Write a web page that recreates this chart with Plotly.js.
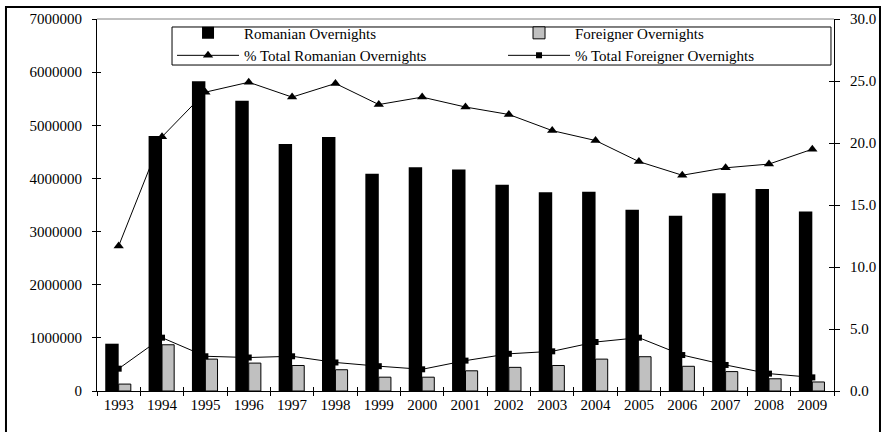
<!DOCTYPE html>
<html>
<head>
<meta charset="utf-8">
<script src="https://cdn.plot.ly/plotly-3.0.1.min.js"></script>
<style>html,body{margin:0;padding:0;background:#fff;}#chart{width:882px;height:432px;}</style>
</head>
<body>
<div id="chart"></div>
<script>
const years = ['1993','1994','1995','1996','1997','1998','1999','2000','2001','2002','2003','2004','2005','2006','2007','2008','2009'];
const romanianOvernights = [890000,4800000,5830000,5460000,4650000,4780000,4090000,4210000,4170000,3880000,3740000,3750000,3410000,3300000,3720000,3800000,3380000];
const foreignerOvernights = [130000,870000,600000,525000,480000,400000,260000,260000,380000,445000,480000,600000,645000,465000,365000,230000,170000];
const pctRomanian = [11.7,20.5,24.1,24.9,23.7,24.8,23.1,23.7,22.9,22.3,21.0,20.2,18.5,17.4,18.0,18.3,19.5];
const pctForeigner = [1.8,4.3,2.8,2.7,2.8,2.3,2.0,1.75,2.45,3.0,3.2,3.95,4.3,2.9,2.1,1.4,1.1];

const serif = 'Liberation Serif';

const traces = [
  {type:'bar', name:'Romanian Overnights', x:years, y:romanianOvernights,
   marker:{color:'#000000', line:{width:0}}, offset:-0.31, width:0.31, xaxis:'x', yaxis:'y'},
  {type:'bar', name:'Foreigner Overnights', x:years, y:foreignerOvernights,
   marker:{color:'#c0c0c0', line:{color:'#000000', width:1}}, offset:0.0, width:0.28, xaxis:'x', yaxis:'y'},
  {type:'scatter', mode:'lines+markers', name:'% Total Romanian Overnights', x:years, y:pctRomanian,
   line:{color:'#000000', width:1}, marker:{symbol:'triangle-up', size:9, color:'#000000'}, xaxis:'x', yaxis:'y2'},
  {type:'scatter', mode:'lines+markers', name:'% Total Foreigner Overnights', x:years, y:pctForeigner,
   line:{color:'#000000', width:1}, marker:{symbol:'square', size:6, color:'#000000'}, xaxis:'x', yaxis:'y2'}
];

const layout = {
  width:882, height:432,
  margin:{l:97, r:48, t:19, b:41},
  paper_bgcolor:'#ffffff', plot_bgcolor:'#ffffff',
  font:{family:serif, size:15, color:'#000000'},
  barmode:'overlay',
  showlegend:true,
  legend:{orientation:'h', x:0.1018, y:1.0065, xanchor:'left', yanchor:'top',
          bgcolor:'rgba(0,0,0,0)', borderwidth:0,
          font:{family:serif, size:15, color:'#000000'},
          entrywidth:254, entrywidthmode:'pixels', itemwidth:62, tracegroupgap:0},
  xaxis:{type:'category', range:[-0.5,16.5], showline:true, linecolor:'#000000', linewidth:1,
         ticks:'outside', ticklen:4, tickcolor:'#000000', tickson:'boundaries',
         showgrid:false, zeroline:false, tickfont:{family:serif, size:15}, fixedrange:true},
  xaxis2:{type:'category', overlaying:'x', matches:'x', range:[-0.5,16.5], anchor:'y', side:'bottom',
          showline:false, ticks:'inside', ticklen:4, tickcolor:'#000000', tickson:'boundaries',
          showticklabels:false, showgrid:false, zeroline:false, tickvals:years, ticktext:years},
  yaxis:{range:[0,7000000], dtick:1000000, tickformat:'d', showline:true, linecolor:'#000000', linewidth:1,
         ticks:'outside', ticklen:4, tickcolor:'#000000', showgrid:false, zeroline:false,
         tickfont:{family:serif, size:15}, ticklabelstandoff:7},
  yaxis2:{range:[0,30], dtick:5, tickformat:'.1f', overlaying:'y', side:'right', anchor:'x',
          showline:true, linecolor:'#000000', linewidth:1, ticks:'outside', ticklen:5, tickcolor:'#000000',
          showgrid:false, zeroline:false, tickfont:{family:serif, size:15}, ticklabelstandoff:7},
  yaxis3:{range:[0,7000000], dtick:1000000, overlaying:'y', side:'left', anchor:'x',
          showline:false, ticks:'inside', ticklen:4, tickcolor:'#000000', showticklabels:false,
          showgrid:false, zeroline:false},
  yaxis4:{range:[0,30], dtick:5, overlaying:'y', side:'right', anchor:'x',
          showline:false, ticks:'inside', ticklen:5, tickcolor:'#000000', showticklabels:false,
          showgrid:false, zeroline:false},
  shapes:[
    {type:'line', xref:'paper', yref:'paper', x0:0, x1:1, y0:1, y1:1, line:{color:'#808080', width:1}},
    {type:'rect', xref:'paper', yref:'paper', x0:-0.1235, x1:1.0624, y0:-0.14, y1:1.0323,
     line:{color:'#000000', width:2}, fillcolor:'rgba(0,0,0,0)', layer:'below'},
    {type:'rect', xref:'paper', yref:'paper', x0:0.1018, x1:0.9959, y0:0.8763, y1:0.9785,
     line:{color:'#000000', width:1}, fillcolor:'#ffffff', layer:'above'}
  ]
};

traces.push({type:'scatter', x:[years[0]], y:[0], xaxis:'x2', yaxis:'y3', mode:'markers',
             marker:{opacity:0}, showlegend:false, hoverinfo:'skip'});
traces.push({type:'scatter', x:[years[0]], y:[0], xaxis:'x2', yaxis:'y4', mode:'markers',
             marker:{opacity:0}, showlegend:false, hoverinfo:'skip'});

Plotly.newPlot('chart', traces, layout, {displayModeBar:false, staticPlot:true});
</script>
</body>
</html>
